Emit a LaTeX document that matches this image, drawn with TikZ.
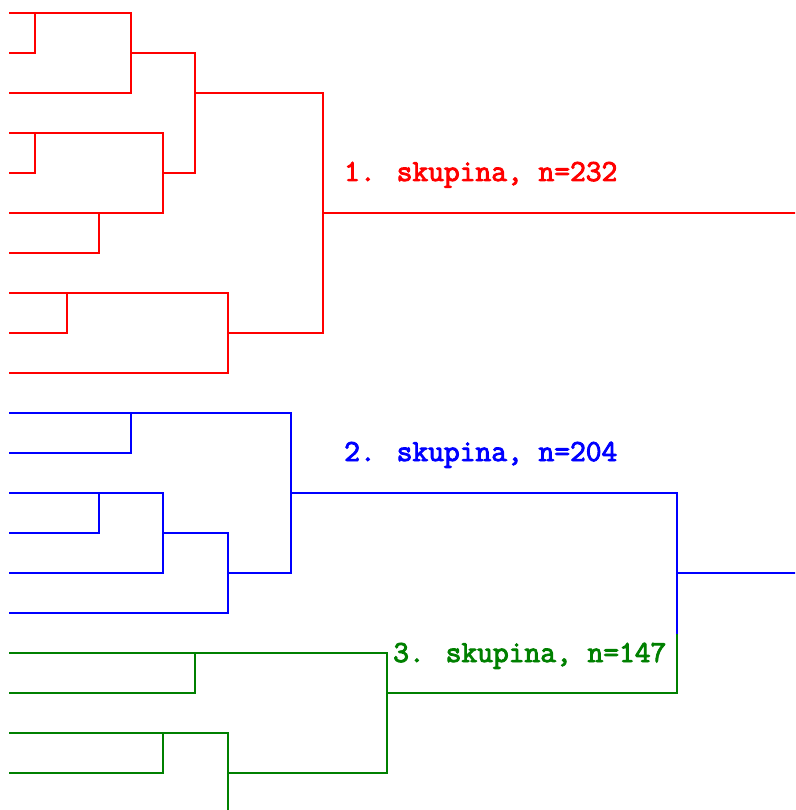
\documentclass[tikz,border=0pt]{standalone}
\usepackage{fontspec}
\newfontfamily\clusterfont{Latin Modern Mono}[FakeBold=3]
\definecolor{cred}{RGB}{255,0,0}
\definecolor{cblue}{RGB}{0,0,255}
\definecolor{cgreen}{RGB}{0,128,0}
\tikzset{
  branch/.style={line width=2pt, line join=miter, line cap=rect},
  clabel/.style={anchor=base west, inner sep=0pt,
    font=\clusterfont\fontsize{30.6}{31}\selectfont}
}
\begin{document}
\begin{tikzpicture}[x=1pt,y=-1pt]
\fill[white] (0,0) rectangle (795,810);
\useasboundingbox (0,0) rectangle (795,810);
\clip (0,0) rectangle (795,810);

% leaves, left ends of the dendrogram
\foreach \i in {1,...,21}{
  \coordinate (L\i) at (10,{13+40*(\i-1)});
}

% merge points
\coordinate (a1) at (35,13);
\coordinate (a2) at (131,13);  \coordinate (a2o) at (131,53);
\coordinate (a3) at (35,133);
\coordinate (a4) at (99,213);
\coordinate (a5) at (163,133); \coordinate (a5o) at (163,173);
\coordinate (a6) at (195,53);  \coordinate (a6o) at (195,93);
\coordinate (a7) at (67,293);
\coordinate (a8) at (228,293); \coordinate (a8o) at (228,333);
\coordinate (a9) at (323,93);  \coordinate (a9o) at (323,213);
\coordinate (rootR) at (795,213);

\coordinate (b1) at (131,413);
\coordinate (b2) at (99,493);
\coordinate (b3) at (163,493); \coordinate (b3o) at (163,533);
\coordinate (b4) at (228,533); \coordinate (b4o) at (228,573);
\coordinate (b5) at (291,413); \coordinate (b5o) at (291,493);
\coordinate (top) at (677,493); \coordinate (topo) at (677,573);
\coordinate (topsplit) at (677,635);
\coordinate (rootB) at (795,573);

\coordinate (g1) at (195,653);
\coordinate (g2) at (163,733);
\coordinate (g3) at (228,733); \coordinate (g3o) at (228,773);
\coordinate (g4) at (387,653); \coordinate (g4o) at (387,693);
\coordinate (bot) at (677,693);

% cluster 1
\begin{scope}[branch, draw=cred]
  \draw (L1) -- (a2);
  \draw (L2) -| (a1);
  \draw (a2) |- (L3);
  \draw (L4) -- (a5) |- (L6);
  \draw (L5) -| (a3);
  \draw (a4) |- (L7);
  \draw (a2o) -- (a6) |- (a5o);
  \draw (L8) -- (a8) |- (L10);
  \draw (L9) -| (a7);
  \draw (a6o) -- (a9) |- (a8o);
  \draw (a9o) -- (rootR);
\end{scope}

% cluster 2
\begin{scope}[branch, draw=cblue]
  \draw (L11) -- (b5) -- (b5o |- b4o) -- (b4o);
  \draw (b1) |- (L12);
  \draw (L13) -- (b3) |- (L15);
  \draw (b2) |- (L14);
  \draw (b3o) -- (b4) |- (L16);
  \draw (b5o) -- (top) -- (topsplit);
  \draw (topo) -- (rootB);
\end{scope}

% cluster 3
\begin{scope}[branch, draw=cgreen]
  \draw (L17) -- (g4) |- (g3o);
  \draw (g1) |- (L18);
  \draw (L19) -- (g3) |- (L21);
  \draw (g2) |- (L20);
  \draw (g4o) -- (bot) -- (topsplit);
\end{scope}

\node[clabel, text=cred]   (n1) at (344,181) {1. skupina, n=232};
\node[clabel, text=cblue]  (n2) at (344,461) {2. skupina, n=204};
\node[clabel, text=cgreen] (n3) at (393,662) {3. skupina, n=147};
\end{tikzpicture}
\end{document}
